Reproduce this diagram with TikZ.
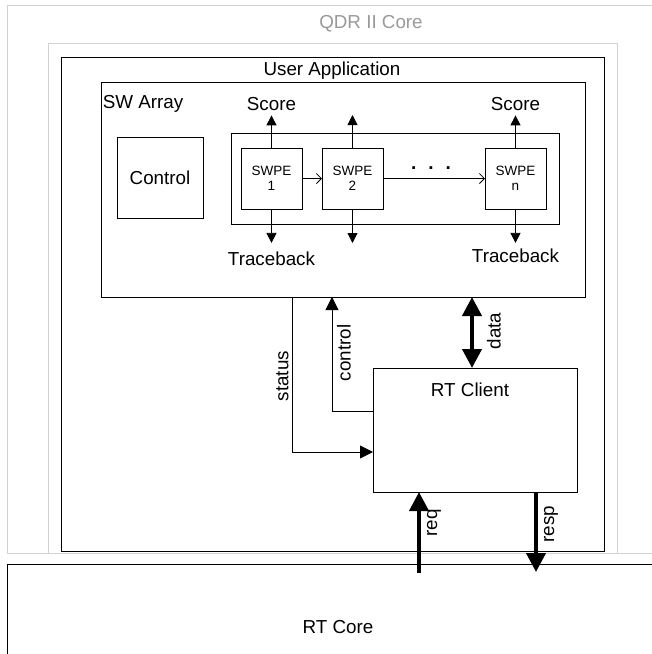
\documentclass[tikz,border=0pt]{standalone}
\usepackage{fontspec}
\setmainfont{Liberation Sans}
\usetikzlibrary{arrows.meta}

\begin{document}
\begin{tikzpicture}[x=1pt, y=-1pt,
    blockbox/.style={draw, rectangle, line width=0.8pt, inner sep=0pt, outer sep=0pt, anchor=north west},
    corebox/.style={blockbox, draw=gray!35, line width=1pt},
    pebox/.style={blockbox, minimum width=61pt, minimum height=61pt, align=center, font=\fontsize{13.5}{15.5}\selectfont},
    lbl/.style={inner sep=0pt, font=\fontsize{18.8}{22}\selectfont},
    sidelbl/.style={lbl, rotate=90},
    pearrow/.style={line width=0.8pt, -{Triangle[length=10pt, width=10pt]}},
    ctlarrow/.style={line width=0.8pt, -{Triangle[length=13pt, width=13pt]}},
    chainarrow/.style={line width=0.8pt, -{Straight Barb[length=5pt, width=10pt]}},
    busarrow/.style={line width=4pt, -{Triangle[length=19pt, width=19pt]}},
    busboth/.style={line width=4pt, {Triangle[length=19pt, width=19pt]}-{Triangle[length=19pt, width=19pt]}}]
    \useasboundingbox (0,0) rectangle (652,654);
    \clip (0,0) rectangle (652,654);

    % frames
    \node[corebox, minimum width=700pt, minimum height=548pt] (qdrcore) at (7,5) {};
    \node[corebox, minimum width=569pt, minimum height=510pt] (qdrinner) at (48,43) {};
    \node[lbl, text=black!40] (qdrtitle) at (371,24) {QDR II Core};

    \node[blockbox, minimum width=543pt, minimum height=494pt] (userapp) at (61,57) {};
    \node[lbl] (userapptitle) at (332,71) {User Application};

    \node[blockbox, minimum width=484pt, minimum height=215pt] (swarray) at (101,82) {};
    \node[lbl] (swarraytitle) at (143,104) {SW Array};

    \node[blockbox, minimum width=86pt, minimum height=81pt, font=\fontsize{18.8}{22}\selectfont] (control) at (117,137) {Control};

    % processing elements
    \node[blockbox, minimum width=328pt, minimum height=91pt] (pearray) at (231,133) {};
    \node[pebox] (pe1) at (241,148) {SWPE\\1};
    \node[pebox] (pe2) at (322,148) {SWPE\\2};
    \node[pebox] (pen) at (485,148) {SWPE\\n};
    \node[lbl, anchor=base, font=\fontsize{19}{22}\bfseries] (dots) at (431,169) {.\hspace{12pt}.\hspace{12pt}.};

    \draw[chainarrow] (pe1) -- (pe2);
    \draw[chainarrow] (pe2) -- (pen);

    \node[lbl] (score1) at (pe1.north |- 0,104) {Score};
    \node[lbl] (scoren) at (pen.north |- 0,104) {Score};
    \coordinate (score2) at (pe2.north |- 0,115);
    \draw[pearrow, shorten >=4.5pt] (pe1) -- (score1);
    \draw[pearrow] (pe2) -- (score2);
    \draw[pearrow, shorten >=4.5pt] (pen) -- (scoren);

    \node[lbl] (trace1) at (pe1.south |- 0,259) {Traceback};
    \node[lbl] (tracen) at (pen.south |- 0,256) {Traceback};
    \coordinate (trace2) at (pe2.south |- 0,243);
    \draw[pearrow, shorten >=9pt] (pe1) -- (trace1);
    \draw[pearrow] (pe2) -- (trace2);
    \draw[pearrow, shorten >=6pt] (pen) -- (tracen);

    % client and core
    \node[blockbox, minimum width=204pt, minimum height=124pt] (rtclient) at (373,368) {};
    \node[lbl] (rtclienttitle) at (470,390) {RT Client};

    \node[blockbox, minimum width=700pt, minimum height=150pt] (rtcore) at (7,564) {};
    \node[lbl] (rtcoretitle) at (338,627) {RT Core};

    \draw[ctlarrow] (swarray.south -| 292,0) |- ([yshift=-22pt]rtclient.west);
    \draw[ctlarrow] ([yshift=19pt]rtclient.west) -| (swarray.south -| 332,0);
    \node[sidelbl] (statuslbl) at (282.5,376) {status};
    \node[sidelbl] (controllbl) at (344,353) {control};

    \coordinate (datalow) at ([xshift=-3pt]rtclient.north);
    \draw[busboth] (datalow) -- (datalow |- swarray.south);
    \node[sidelbl] (datalbl) at (494,331) {data};

    \coordinate (reqfoot) at (419,573);
    \coordinate (respfoot) at (536,572);
    \draw[busarrow] (reqfoot) -- (reqfoot |- rtclient.south);
    \draw[busarrow] (respfoot |- rtclient.south) -- (respfoot);
    \node[sidelbl] (reqlbl) at (434,523) {req};
    \node[sidelbl] (resplbl) at (551,524) {resp};
\end{tikzpicture}
\end{document}
